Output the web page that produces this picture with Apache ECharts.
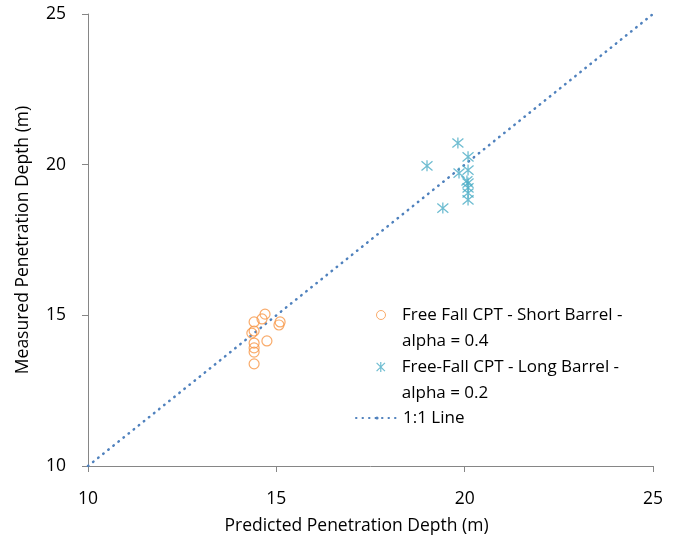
<!DOCTYPE html>
<html>
<head>
<meta charset="utf-8">
<script src="https://cdn.jsdelivr.net/npm/echarts@6/dist/echarts.min.js"></script>
<style>
  html, body { margin: 0; padding: 0; background: #fff; }
  #chart { width: 686px; height: 542px; }
</style>
</head>
<body>
<div id="chart"></div>
<script>
// Free Fall CPT - Short Barrel (predicted, measured)
const shortPredicted = [14.70, 14.62, 14.41, 15.10, 15.07, 14.41, 14.35, 14.75, 14.41, 14.41, 14.41, 14.41]
const shortMeasured  = [15.04, 14.88, 14.78, 14.78, 14.68, 14.48, 14.41, 14.15, 14.08, 13.92, 13.78, 13.39]

// Free-Fall CPT - Long Barrel
const longPredicted = [19.82, 19.00, 20.09, 19.85, 20.09, 20.06, 20.09, 20.09, 20.09, 20.09, 19.42]
const longMeasured  = [20.72, 19.96, 20.26, 19.72, 19.82, 19.46, 19.39, 19.23, 19.06, 18.83, 18.56]

// 1:1 line end points
const lineX = [10, 25]
const lineY = [10, 25]

const axisTicks = [10, 15, 20, 25]

const names = [
    'Free Fall CPT - Short Barrel - alpha = 0.4',
    'Free-Fall CPT - Long Barrel - alpha = 0.2',
    '1:1 Line'
]

const font = 'Open Sans'
const starPath = 'path://M0,0L10,10M10,0L0,10M5,-1L5,11'

const zip = (a, b) => a.map((v, i) => [v, b[i]])

const chart = echarts.init(document.getElementById('chart'))

// empty first line keeps the icon level with the first text line
const legendText = {
    fontFamily: font,
    fontSize: 17,
    color: '#000',
    lineHeight: 26
}

const option = {
    animation: false,
    grid: { left: 88, right: 33, top: 14, bottom: 76 },
    xAxis: {
        type: 'value',
        min: axisTicks[0],
        max: axisTicks[axisTicks.length - 1],
        interval: 5,
        name: 'Predicted Penetration Depth (m)',
        nameLocation: 'middle',
        nameGap: 51,
        nameTextStyle: { fontFamily: font, fontSize: 17.5, color: '#000', padding: [0, 28, 0, 0] },
        axisLine: { lineStyle: { color: '#868686' } },
        axisTick: { show: true, length: 6, lineStyle: { color: '#868686' } },
        axisLabel: { fontFamily: font, fontSize: 17.5, color: '#000', margin: 24 },
        splitLine: { show: false }
    },
    yAxis: {
        type: 'value',
        min: axisTicks[0],
        max: axisTicks[axisTicks.length - 1],
        interval: 5,
        name: 'Measured Penetration Depth (m)',
        nameLocation: 'middle',
        nameGap: 56,
        nameTextStyle: { fontFamily: font, fontSize: 17.5, color: '#000' },
        axisLine: { show: true, lineStyle: { color: '#868686' } },
        axisTick: { show: true, length: 6, lineStyle: { color: '#868686' } },
        axisLabel: { fontFamily: font, fontSize: 17.5, color: '#000', margin: 22 },
        splitLine: { show: false }
    },
    legend: [
        {
            data: [names[0]], orient: 'vertical', left: 376, top: 276, padding: 0,
            itemWidth: 32, itemHeight: 9,
            itemStyle: { borderWidth: 1 },
            formatter: () => '\nFree Fall CPT - Short Barrel -\nalpha = 0.4',
            textStyle: legendText
        },
        {
            data: [names[1]], orient: 'vertical', left: 376, top: 328, padding: 0,
            itemWidth: 32, itemHeight: 10,
            itemStyle: { borderWidth: 1.2 },
            formatter: () => '\nFree-Fall CPT - Long Barrel -\nalpha = 0.2',
            textStyle: legendText
        },
        {
            data: [names[2]], orient: 'vertical', left: 355, top: 405, padding: 0,
            itemWidth: 42, itemHeight: 4,
            textStyle: legendText
        }
    ],
    series: [
        {
            name: names[2],
            type: 'line',
            data: zip(lineX, lineY),
            symbol: 'none',
            z: 1,
            lineStyle: { color: '#4f81bd', width: 2.5, type: [0.5, 6], cap: 'round' },
            itemStyle: { color: '#4f81bd' }
        },
        {
            name: names[0],
            type: 'scatter',
            data: zip(shortPredicted, shortMeasured),
            symbol: 'circle',
            symbolSize: 10,
            z: 3,
            itemStyle: { color: 'rgba(0,0,0,0)', borderColor: '#f79646', borderWidth: 1.2 }
        },
        {
            name: names[1],
            type: 'scatter',
            data: zip(longPredicted, longMeasured),
            symbol: starPath,
            symbolSize: 11,
            z: 3,
            itemStyle: { color: 'rgba(0,0,0,0)', borderColor: '#4bacc6', borderWidth: 1.3 }
        }
    ]
}

chart.setOption(option)
</script>
</body>
</html>
